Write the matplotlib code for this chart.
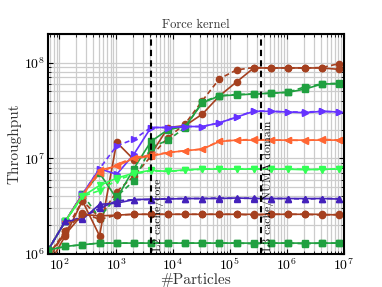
import numpy as np
import matplotlib
matplotlib.use("Agg")
import matplotlib.pyplot as plt

plt.rcParams['font.family'] = ['cmr10', 'DejaVu Serif']
plt.rcParams['mathtext.fontset'] = 'cm'
plt.rcParams['axes.formatter.use_mathtext'] = True

# number of particles: 2^6 .. 2^23
particles = [2**k for k in range(6, 24)]

# throughput values in millions (solid, dashed) per series
brown_hi_solid = [0.75, 1.55, 3.6, 1.55, 14.7, 9.7, 11.0, 21.0, 22.0, 29.0, 45.0, 63.0, 88.0, 88.0, 88.0, 88.0, 88.0, 85.0]
brown_hi_dash = [0.85, 1.75, 3.6, 2.4, 4.5, 6.5, 10.5, 16.5, 23.0, 40.0, 68.0, 84.0, 89.0, 88.0, 88.0, 88.0, 89.0, 98.0]
green_hi_solid = [1.1, 2.2, 4.2, 7.0, 3.8, 7.8, 15.0, 20.0, 21.5, 38.0, 45.0, 46.0, 47.0, 48.0, 49.0, 53.0, 60.0, 60.0]
green_hi_dash = [1.1, 2.2, 4.2, 2.4, 4.0, 5.8, 13.0, 15.5, 21.0, 39.0, 45.0, 46.5, 47.0, 48.0, 49.0, 56.0, 60.0, 61.0]
blue_solid = [1.1, 2.2, 4.2, 7.8, 6.8, 11.0, 21.0, 21.0, 21.5, 21.5, 23.5, 27.0, 31.0, 31.0, 30.5, 30.0, 31.0, 30.5]
blue_dash = [1.1, 2.2, 4.2, 7.8, 13.5, 15.8, 21.0, 21.0, 21.5, 21.5, 23.5, 27.0, 31.5, 31.0, 30.5, 30.5, 31.0, 30.5]
orange_solid = [1.1, 2.2, 4.1, 7.5, 8.3, 10.0, 10.5, 11.5, 12.0, 12.5, 15.0, 15.5, 15.5, 15.5, 15.5, 15.5, 15.5, 15.5]
orange_dash = [1.1, 2.2, 4.1, 7.0, 8.6, 10.2, 10.8, 11.5, 12.0, 12.5, 15.2, 15.5, 15.8, 15.5, 15.5, 15.3, 15.8, 15.5]
lgreen_solid = [1.1, 2.2, 4.0, 5.2, 6.2, 7.0, 7.5, 7.3, 7.6, 7.7, 7.7, 7.7, 7.7, 7.7, 7.7, 7.6, 7.7, 7.7]
lgreen_dash = [1.1, 2.2, 4.0, 4.6, 5.9, 6.8, 7.4, 7.3, 7.5, 7.7, 7.8, 7.7, 7.8, 7.7, 7.7, 7.7, 7.6, 7.8]
indigo_solid = [1.1, 2.2, 2.3, 3.3, 3.4, 3.7, 3.75, 3.75, 3.8, 3.8, 3.8, 3.85, 3.8, 3.8, 3.8, 3.8, 3.8, 3.75]
indigo_dash = [1.1, 2.2, 2.4, 3.0, 3.6, 3.7, 3.7, 3.8, 3.8, 3.8, 3.85, 3.8, 3.85, 3.8, 3.8, 3.75, 3.8, 3.8]
brown_lo_solid = [1.0, 1.6, 2.6, 2.5, 2.55, 2.6, 2.6, 2.6, 2.6, 2.6, 2.6, 2.6, 2.6, 2.6, 2.6, 2.6, 2.6, 2.55]
brown_lo_dash = [0.95, 1.75, 2.7, 2.3, 2.55, 2.6, 2.6, 2.6, 2.6, 2.6, 2.6, 2.6, 2.55, 2.6, 2.6, 2.6, 2.55, 2.6]
green_lo_solid = [1.1, 1.2, 1.25, 1.3, 1.3, 1.3, 1.3, 1.3, 1.3, 1.3, 1.3, 1.3, 1.3, 1.3, 1.3, 1.3, 1.3, 1.3]
green_lo_dash = [1.1, 1.2, 1.25, 1.3, 1.3, 1.3, 1.3, 1.3, 1.3, 1.3, 1.3, 1.3, 1.28, 1.3, 1.3, 1.28, 1.3, 1.3]

series = [
    (brown_hi_solid, brown_hi_dash, '#a5401f', 'o'),
    (green_hi_solid, green_hi_dash, '#20a040', 's'),
    (blue_solid, blue_dash, '#6633ff', '>'),
    (orange_solid, orange_dash, '#ff6633', '<'),
    (lgreen_solid, lgreen_dash, '#33ff55', 'v'),
    (indigo_solid, indigo_dash, '#4422bb', '^'),
    (brown_lo_solid, brown_lo_dash, '#a5401f', 'o'),
    (green_lo_solid, green_lo_dash, '#20a040', 's'),
]

l2_cache = 4096
l3_cache = 3.5e5

fig = plt.figure(figsize=(3.82, 2.87), dpi=100)
ax = fig.add_axes([0.126, 0.115, 0.774, 0.767])

x = np.array(particles)
for solid, dash, col, mk in series:
    ax.plot(x, np.array(solid) * 1e6, '-', color=col, marker=mk, ms=4.5, lw=1.2, mec=col)
    ax.plot(x, np.array(dash) * 1e6, '--', color=col, marker=mk, ms=4.5, lw=1.2, mec=col,
            dashes=(3, 2))

ax.axvline(l2_cache, color='k', ls='--', lw=1.5, dashes=(3, 2), zorder=5)
ax.axvline(l3_cache, color='k', ls='--', lw=1.5, dashes=(3, 2), zorder=5)
ax.text(l2_cache * 1.08, 1.07e6, 'L2 cache/core', rotation=90, fontsize=8.5,
        ha='left', va='bottom', color='#111111', zorder=10)
ax.text(l3_cache * 1.08, 1.07e6, 'L3 cache/NUMA domain', rotation=90, fontsize=8.5,
        ha='left', va='bottom', color='#111111', zorder=10)

ax.set_xscale('log')
ax.set_yscale('log')
ax.set_xlim(64, 1e7)
ax.set_ylim(1e6, 2e8)
ax.grid(True, which='both', color='#cccccc', lw=0.9)
ax.set_axisbelow(True)
ax.tick_params(which='both', direction='in', top=True, right=True, labelsize=10, pad=2)
for s in ax.spines.values():
    s.set_linewidth(1.5)

ax.set_title('Force kernel', fontsize=9, color='#333333', pad=4)
ax.set_xlabel('#Particles', fontsize=11, color='#333333', labelpad=0)
ax.set_ylabel('Throughput', fontsize=11, color='#333333', labelpad=2)

fig.savefig('out.png', dpi=100)
